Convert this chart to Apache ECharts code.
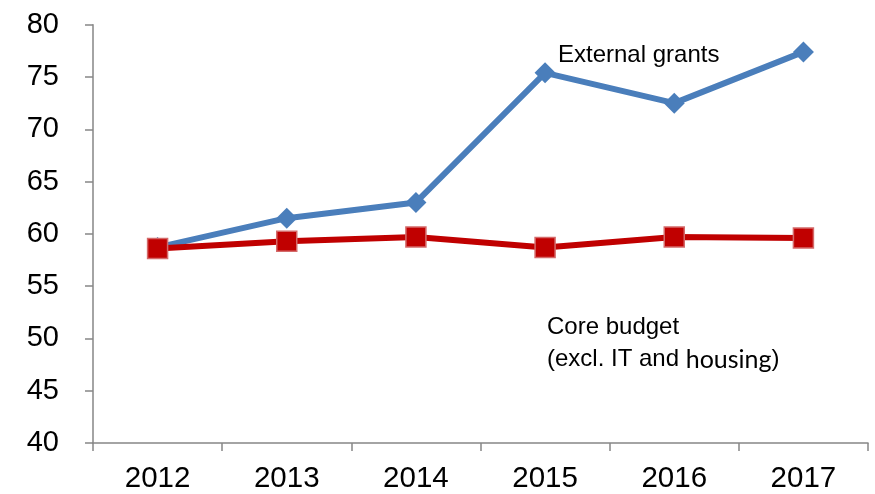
<!DOCTYPE html>
<html>
<head>
<meta charset="utf-8">
<script src="https://cdn.jsdelivr.net/npm/echarts@6/dist/echarts.min.js"></script>
<style>html,body{margin:0;padding:0;background:#fff}#c{width:875px;height:494px}</style>
</head>
<body>
<div id="c"></div>
<script>
var years = ['2012', '2013', '2014', '2015', '2016', '2017'];
var externalGrants = [58.7, 61.5, 63.0, 75.4, 72.5, 77.4];
var coreBudget = [58.6, 59.3, 59.7, 58.7, 59.7, 59.6];
var yMin = 40, yMax = 80, yStep = 5;

var chart = echarts.init(document.getElementById('c'), null, {renderer: 'canvas'});
var axisColor = '#868686';
var font = 'Liberation Sans, Arial, sans-serif';
chart.setOption({
  animation: false,
  backgroundColor: '#ffffff',
  grid: {left: 93, right: 7, top: 24.7, bottom: 45.7, containLabel: false},
  xAxis: {
    type: 'category',
    data: years,
    boundaryGap: true,
    axisLine: {lineStyle: {color: axisColor, width: 1.5}},
    axisTick: {show: true, length: 8, lineStyle: {color: axisColor, width: 1.5}},
    axisLabel: {color: '#000', fontSize: 29.5, fontFamily: font, margin: 21}
  },
  yAxis: {
    type: 'value',
    min: yMin, max: yMax, interval: yStep,
    axisLine: {show: true, lineStyle: {color: axisColor, width: 1.5}},
    axisTick: {show: true, length: 8, lineStyle: {color: axisColor, width: 1.5}},
    splitLine: {show: false},
    axisLabel: {color: '#000', fontSize: 29, fontFamily: font, margin: 34}
  },
  series: [
    {
      name: 'External grants', type: 'line', data: externalGrants,
      symbol: 'diamond', symbolSize: 21,
      lineStyle: {color: '#4A7EBB', width: 6},
      itemStyle: {color: '#4A7EBB'},
      z: 2
    },
    {
      name: 'Core budget', type: 'line', data: coreBudget,
      symbol: 'rect', symbolSize: 20,
      lineStyle: {color: '#C00000', width: 6},
      itemStyle: {color: '#C00000', borderColor: '#D46A6A', borderWidth: 1.5},
      z: 3
    }
  ],
  graphic: [
    {type: 'text', left: 558, top: 43, style: {text: 'External grants', fill: '#000', font: '24px ' + font}},
    {type: 'text', left: 547, top: 315, style: {text: 'Core budget', fill: '#000', font: '24px ' + font}},
    {type: 'text', left: 547, top: 347, style: {
      text: '(excl. IT and {h|housing})', fill: '#000', font: '24px ' + font,
      rich: {h: {fontFamily: 'Lato', fontSize: 25, fill: '#000'}}
    }}
  ]
});
</script>
</body>
</html>
